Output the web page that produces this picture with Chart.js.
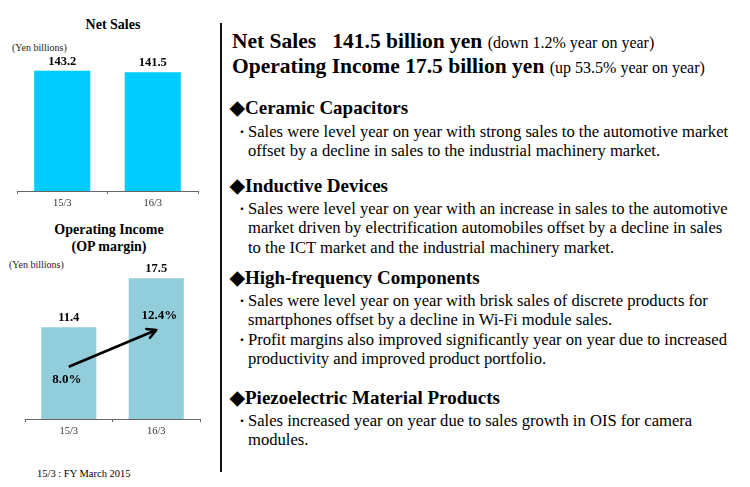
<!DOCTYPE html>
<html>
<head>
<meta charset="utf-8">
<script src="https://cdn.jsdelivr.net/npm/chart.js@4.4.1/dist/chart.umd.min.js"></script>
<style>
  html, body { margin: 0; padding: 0; background: #fff; }
  body { width: 750px; height: 487px; position: relative; overflow: hidden; font-family: "Liberation Serif", "Times New Roman", serif; color: #000; }
  .abs { position: absolute; white-space: nowrap; }
  canvas { position: absolute; }
  .ttl { font-weight: bold; font-size: 14px; text-align: center; width: 218px; left: 4px; }
  .unit { font-size: 10px; color: #222; }
  .head { left: 232px; font-weight: bold; font-size: 21.5px; line-height: 25px; }
  .head span { font-weight: normal; font-size: 16px; }
  .sec { left: 230px; font-weight: bold; font-size: 19px; line-height: 22px; }
  .txt { left: 236px; font-size: 16.6px; line-height: 19.3px; }
  .txt div { position: relative; padding-left: 12px; }
  .txt div .b { position: absolute; left: 0; top: 0; font-family: "Noto Sans CJK JP", sans-serif; font-size: 12px; }
</style>
</head>
<body>
<div class="abs ttl" style="top:17px;">Net Sales</div>
<div class="abs unit" style="left:12px; top:42px;">(Yen billions)</div>
<canvas id="c1" width="218" height="220" style="left:0; top:0;"></canvas>

<div class="abs ttl" style="top:221px; line-height:17px; left:0;">Operating Income<br>(OP margin)</div>
<div class="abs unit" style="left:9px; top:259px;">(Yen billions)</div>
<canvas id="c2" width="218" height="200" style="left:0; top:250px;"></canvas>

<div class="abs" style="left:37px; top:468px; font-size:10.5px;">15/3 : FY March 2015</div>

<div class="abs" style="left:220px; top:23px; width:1.6px; height:449px; background:#111;"></div>

<div class="abs head" style="top:29px;">Net Sales&nbsp;&nbsp; 141.5 billion yen <span>(down 1.2% year on year)</span></div>
<div class="abs head" style="top:54px;">Operating Income 17.5 billion yen <span>(up 53.5% year on year)</span></div>

<div class="abs sec" style="top:97px;">◆Ceramic Capacitors</div>
<div class="abs txt" style="top:122px;">
  <div><span class="b">・</span>Sales were level year on year with strong sales to the automotive market<br>offset by a decline in sales to the industrial machinery market.</div>
</div>

<div class="abs sec" style="top:175px;">◆Inductive Devices</div>
<div class="abs txt" style="top:199px;">
  <div><span class="b">・</span>Sales were level year on year with an increase in sales to the automotive<br>market driven by electrification automobiles offset by a decline in sales<br>to the ICT market and the industrial machinery market.</div>
</div>

<div class="abs sec" style="top:267px;">◆High-frequency Components</div>
<div class="abs txt" style="top:291px;">
  <div><span class="b">・</span>Sales were level year on year with brisk sales of discrete products for<br>smartphones offset by a decline in Wi-Fi module sales.</div>
  <div><span class="b">・</span>Profit margins also improved significantly year on year due to increased<br>productivity and improved product portfolio.</div>
</div>

<div class="abs sec" style="top:387px;">◆Piezoelectric Material Products</div>
<div class="abs txt" style="top:411px;">
  <div><span class="b">・</span>Sales increased year on year due to sales growth in OIS for camera<br>modules.</div>
</div>

<script>
const categories = ['15/3', '16/3'];
const netSales = [143.2, 141.5];
const opIncome = [11.4, 17.5];
const opMargin = [8.0, 12.4];

const FONT = 'Liberation Serif';

const valueLabels = {
  id: 'valueLabels',
  afterDatasetsDraw(chart) {
    const ctx = chart.ctx;
    chart.data.datasets.forEach((ds, di) => {
      if (ds.type === 'line') return;
      const meta = chart.getDatasetMeta(di);
      ctx.save();
      ctx.font = 'bold 12.5px "' + FONT + '"';
      ctx.fillStyle = '#000';
      ctx.textAlign = 'center';
      ctx.textBaseline = 'bottom';
      meta.data.forEach((el, i) => {
        ctx.fillText(ds.data[i].toFixed(1), el.x, el.y - 3);
      });
      ctx.restore();
    });
  }
};

const arrowPlugin = {
  id: 'arrowPlugin',
  afterDatasetsDraw(chart) {
    const ctx = chart.ctx;
    chart.data.datasets.forEach((ds, di) => {
      if (ds.type !== 'line') return;
      const pts = chart.getDatasetMeta(di).data;
      const a = pts[0], b = pts[pts.length - 1];
      const ang = Math.atan2(b.y - a.y, b.x - a.x);
      ctx.save();
      ctx.strokeStyle = '#000';
      ctx.lineWidth = 2.6;
      ctx.lineCap = 'round';
      ctx.lineJoin = 'round';
      const L = 10;
      ctx.beginPath();
      ctx.moveTo(b.x - L * Math.cos(ang - 0.5), b.y - L * Math.sin(ang - 0.5));
      ctx.lineTo(b.x, b.y);
      ctx.lineTo(b.x - L * Math.cos(ang + 0.5), b.y - L * Math.sin(ang + 0.5));
      ctx.stroke();
      ctx.font = 'bold 13px "' + FONT + '"';
      ctx.fillStyle = '#000';
      ctx.textAlign = 'center';
      ctx.textBaseline = 'middle';
      ctx.fillText(ds.data[0].toFixed(1) + '%', a.x - 2, a.y + 13);
      ctx.fillText(ds.data[1].toFixed(1) + '%', b.x + 3, b.y - 14);
      ctx.restore();
    });
  }
};

function xScale(h) {
  return {
    type: 'category',
    offset: true,
    grid: { display: true, drawOnChartArea: false, drawTicks: true, tickLength: 3, color: '#666', offset: true, lineWidth: 1 },
    border: { display: true, color: '#666', width: 1 },
    ticks: { color: '#333', font: { family: FONT, size: 10.5 }, padding: 3 },
    afterFit: s => { s.height = h; }
  };
}

Chart.defaults.animation = false;

new Chart(document.getElementById('c1'), {
  type: 'bar',
  data: {
    labels: categories,
    datasets: [{
      data: netSales,
      backgroundColor: '#00CCFF',
      barPercentage: 0.62,
      categoryPercentage: 1.0
    }]
  },
  options: {
    responsive: false,
    devicePixelRatio: 1,
    layout: { padding: { top: 40, left: 17, right: 20, bottom: 0 } },
    plugins: { legend: { display: false }, tooltip: { enabled: false }, title: { display: false } },
    scales: {
      x: xScale(29),
      y: { display: false, min: 0, max: 180 }
    }
  },
  plugins: [valueLabels]
});

new Chart(document.getElementById('c2'), {
  type: 'bar',
  data: {
    labels: categories,
    datasets: [
      {
        type: 'line',
        data: opMargin,
        yAxisID: 'y2',
        borderColor: '#000',
        borderWidth: 2.6,
        pointRadius: 0,
        fill: false,
        order: 0
      },
      {
        type: 'bar',
        data: opIncome,
        yAxisID: 'y',
        backgroundColor: '#92CDDC',
        barPercentage: 0.63,
        categoryPercentage: 1.0,
        order: 1
      }
    ]
  },
  options: {
    responsive: false,
    devicePixelRatio: 1,
    layout: { padding: { top: 8, left: 25, right: 18, bottom: 0 } },
    plugins: { legend: { display: false }, tooltip: { enabled: false }, title: { display: false } },
    scales: {
      x: xScale(31),
      y: { display: false, min: 0, max: 20 },
      y2: { display: false, min: 1.73, max: 21.03 }
    }
  },
  plugins: [valueLabels, arrowPlugin]
});
</script>
</body>
</html>
